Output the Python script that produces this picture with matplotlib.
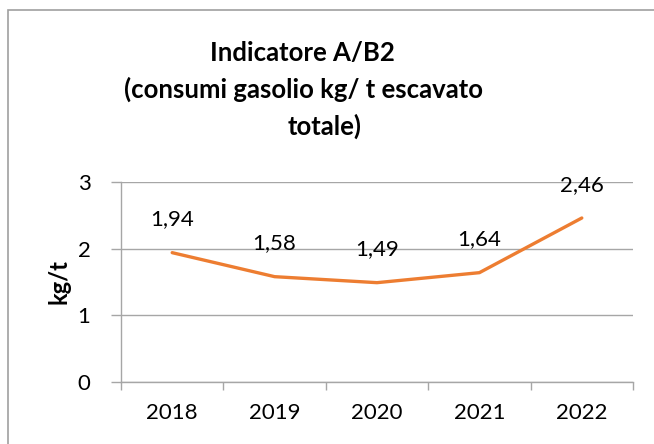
import matplotlib
matplotlib.use("Agg")
import matplotlib.pyplot as plt
from matplotlib.patches import Rectangle

years = ["2018", "2019", "2020", "2021", "2022"]
values = [1.94, 1.58, 1.49, 1.64, 2.46]
labels = ["1,94", "1,58", "1,49", "1,64", "2,46"]
yticks = [0, 1, 2, 3]
title_lines = ["Indicatore A/B2", "(consumi gasolio kg/ t escavato", "totale)"]

W, H = 654, 444
plt.rcParams['font.family'] = ['Lato', 'DejaVu Sans']
fig = plt.figure(figsize=(W / 100, H / 100), dpi=100)

# outer chart border (cropped at right/bottom)
fig.patches.append(Rectangle((8 / W, -0.1), 2.0, (H - 10) / H + 0.1, transform=fig.transFigure,
                             fill=False, edgecolor='#A0A0A0', linewidth=1.2))

left, right, top, bottom = 121, 633, 182, 382
ax = fig.add_axes([left / W, 1 - bottom / H, (right - left) / W, (bottom - top) / H])

x = list(range(len(years)))
ax.plot(x, values, color='#ED7D31', linewidth=2.4, solid_capstyle='round', zorder=3)
for xi, v, lab in zip(x, values, labels):
    ax.annotate(lab, (xi, v), xytext=(0, 24), textcoords='offset points',
                ha='center', va='center', fontsize=16, color='#000000')

ax.set_xlim(-0.5, len(years) - 0.5)
ax.set_ylim(0, 3)
ax.set_yticks(yticks)
ax.set_yticklabels([str(t) for t in yticks])
ax.set_xticks(x)
ax.set_xticklabels(years)
ax.set_xticks([i - 0.5 for i in range(len(years) + 1)], minor=True)
ax.tick_params(axis='x', which='major', length=0, pad=15, labelsize=16)
ax.tick_params(axis='x', which='minor', length=6, color='#A6A6A6', width=1)
ax.tick_params(axis='y', length=7, color='#A6A6A6', width=1, pad=15, labelsize=16)
ax.yaxis.grid(True, color='#A6A6A6', linewidth=1)
ax.set_axisbelow(True)
for s in ['top', 'right']:
    ax.spines[s].set_visible(False)
for s in ['left', 'bottom']:
    ax.spines[s].set_color('#A6A6A6')
    ax.spines[s].set_linewidth(1)

ax.set_ylabel('kg/t', fontsize=17, fontweight='bold', labelpad=5)

title_pos = [(302, 61), (304, 98), (325, 135)]
for (tx, ty), line in zip(title_pos, title_lines):
    fig.text(tx / W, 1 - ty / H, line, ha='center', va='baseline', fontsize=18.5, fontweight='bold')

fig.savefig('out.png', dpi=100)
